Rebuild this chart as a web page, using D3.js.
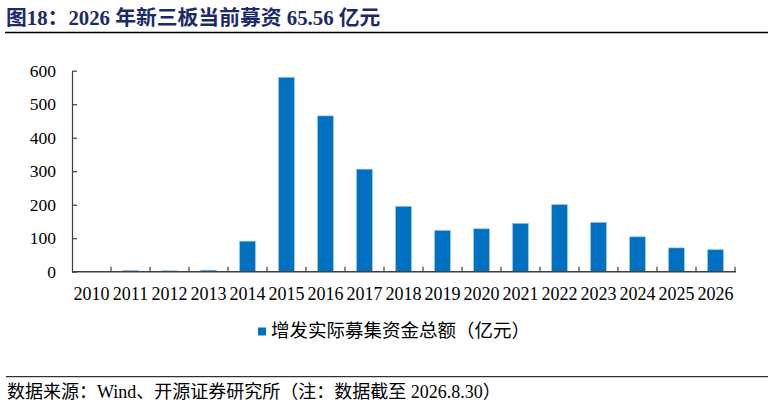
<!DOCTYPE html>
<html>
<head>
<meta charset="utf-8">
<script src="https://cdn.jsdelivr.net/npm/d3@7/dist/d3.min.js"></script>
<style>
html,body{margin:0;padding:0;background:#fff;}
svg{display:block;}
</style>
</head>
<body>
<svg id="chart" width="774" height="407"></svg>
<script>
const categories = ["2010","2011","2012","2013","2014","2015","2016","2017","2018","2019","2020","2021","2022","2023","2024","2025","2026"];
const values = [0.3, 3.5, 2.6, 4.5, 91, 580, 465, 306, 195, 123, 128, 144, 200, 147, 104, 71, 65.56];
const yTicks = [0, 100, 200, 300, 400, 500, 600];
const seriesName = "增发实际募集资金总额（亿元）";
const titleText = "图18：2026 年新三板当前募资 65.56 亿元";
const sourceText = "数据来源：Wind、开源证券研究所（注：数据截至 2026.8.30）";

const FONT = "'Liberation Serif','Times New Roman','Noto Sans CJK SC',serif";
const svg = d3.select("#chart");

// title
svg.append("text").attr("x", 6).attr("y", 25)
  .attr("font-family", FONT).attr("font-weight", "bold").attr("font-size", 20.8)
  .attr("fill", "#1B2A6B").text(titleText);
svg.append("line").attr("x1", 5).attr("x2", 768).attr("y1", 32.5).attr("y2", 32.5)
  .attr("stroke", "#000").attr("stroke-width", 1.3);

const x = d3.scaleBand().domain(categories).range([72, 735]).paddingInner(0.6).paddingOuter(0.3);
const y = d3.scaleLinear().domain([0, 600]).range([271.7, 70.7]);

// bars
svg.append("g").selectAll("rect").data(values).join("rect")
  .attr("x", (d, i) => x(categories[i]))
  .attr("width", x.bandwidth())
  .attr("y", d => y(d))
  .attr("height", d => y(0) - y(d))
  .attr("fill", "#0070C0")
  .attr("stroke", "#8FBDE6").attr("stroke-width", 0.6);

// y axis
const yAxis = d3.axisLeft(y).tickValues(yTicks).tickSizeInner(-5).tickSizeOuter(0).tickPadding(16);
const gy = svg.append("g").attr("transform", "translate(72,0)").call(yAxis);
gy.select(".domain").attr("stroke", "#404040").attr("stroke-width", 1.2);
gy.selectAll(".tick line").attr("stroke", "#404040").attr("stroke-width", 1.2);
gy.selectAll(".tick text").attr("font-family", FONT).attr("font-size", 17.5).attr("fill", "#000");

// x axis
const xBoundaries = d3.scaleLinear().domain([0, categories.length]).range([72, 735]);
const gx = svg.append("g").attr("transform", `translate(0,${y(0)})`);
gx.append("line").attr("x1", 72).attr("x2", 736).attr("stroke", "#404040").attr("stroke-width", 1.6);
gx.selectAll("line.tk").data(d3.range(1, categories.length + 1)).join("line").attr("class", "tk")
  .attr("x1", d => xBoundaries(d)).attr("x2", d => xBoundaries(d))
  .attr("y1", 0).attr("y2", -5).attr("stroke", "#404040").attr("stroke-width", 1.2);
gx.selectAll("text").data(categories).join("text")
  .attr("x", d => x(d) + x.bandwidth() / 2).attr("y", 28)
  .attr("text-anchor", "middle").attr("font-family", FONT).attr("font-size", 18).attr("fill", "#000")
  .text(d => d);

// legend
svg.append("rect").attr("x", 258).attr("y", 327.5).attr("width", 8).attr("height", 8).attr("fill", "#0070C0");
svg.append("text").attr("x", 271).attr("y", 337).attr("font-family", FONT).attr("font-size", 18.5)
  .attr("fill", "#000").text(seriesName);

// footer
svg.append("line").attr("x1", 6).attr("x2", 768).attr("y1", 376.7).attr("y2", 376.7)
  .attr("stroke", "#000").attr("stroke-width", 1);
svg.append("text").attr("x", 7).attr("y", 398).attr("font-family", FONT).attr("font-size", 18)
  .attr("fill", "#000").text(sourceText);
</script>
</body>
</html>
